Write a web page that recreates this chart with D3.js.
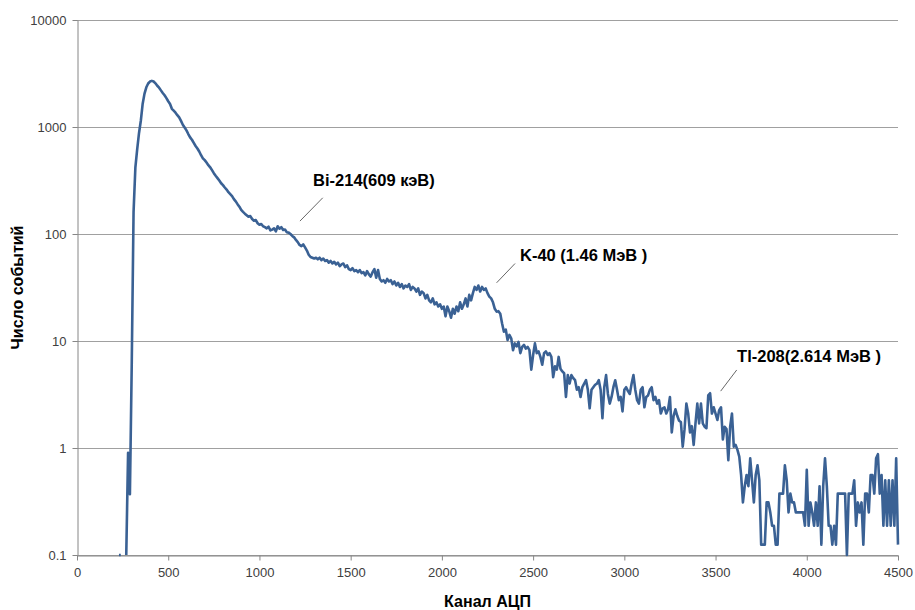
<!DOCTYPE html>
<html>
<head>
<meta charset="utf-8">
<script src="https://cdn.jsdelivr.net/npm/d3@7"></script>
<style>
  html, body { margin: 0; padding: 0; background: #ffffff; }
  svg { display: block; }
</style>
</head>
<body>
<div id="chart"></div>
<script>
// ---- Data ----
const channelStart = 230;   // first channel of the counts array
const channelStep = 10;     // channel spacing between samples
const counts = [
  0.1, 0.1, null, null, 0.1, 0.9, 0.37, 6, 160, 420,
  620, 880, 1150, 1650, 2050, 2350, 2550, 2660, 2700, 2660,
  2560, 2430, 2330, 2200, 2080, 1980, 1860, 1740, 1640, 1480,
  1420, 1360, 1290, 1230, 1140, 1050, 990, 930, 860, 800,
  760, 710, 665, 630, 590, 545, 510, 490, 465, 440,
  420, 395, 370, 350, 333, 316, 298, 286, 272, 260,
  246, 236, 226, 212, 202, 190, 180, 168, 161, 155,
  150, 145, 147, 138, 133, 135, 126, 122, 124, 118,
  116, 113, 117, 108, 110, 113, 106, 118, 112, 116,
  109, 110, 104, 103, 100, 96, 93, 88, 84, 79,
  77, 80, 75, 70, 64, 61, 60, 59, 60, 58,
  60, 57, 59, 56, 57, 54, 56, 53, 55, 52,
  54, 50, 52, 53, 49, 51, 47, 46, 48, 45,
  46, 44, 46, 43, 44, 41, 45, 42, 40, 44,
  47, 39, 46, 38, 36, 37, 35, 38, 36, 37,
  34, 36, 33, 35, 32, 34, 31, 33, 32, 34,
  30, 32, 31, 29, 31, 27, 29, 28, 25, 27,
  24, 23, 25, 22, 23, 21, 22, 20, 21, 17,
  21, 19, 16.5, 20, 18, 21, 19, 23, 20, 22,
  25, 21, 27, 24, 28, 32, 30, 33, 29, 32,
  30, 31, 28, 26, 25, 23, 20, 18.8, 19, 18,
  14.6, 12.2, 12.8, 10.2, 11.4, 10.6, 8.2, 9.5, 8.9, 9.8,
  7.7, 8.8, 9.2, 8.5, 8.8, 8.2, 5.4, 7.4, 9.5, 7.7,
  8.0, 7.1, 6.0, 7.7, 8.0, 7.4, 7.7, 7.1, 4.6, 5.8,
  5.4, 7.1, 5.5, 5.2, 5.0, 3.0, 4.8, 4.0, 4.8, 4.5,
  4.3, 3.5, 3.7, 3.0, 3.7, 4.0, 4.3, 3.5, 2.35, 3.5,
  3.7, 3.9, 4.0, 4.3, 3.5, 1.9, 3.7, 4.8, 3.2, 2.6,
  3.0, 3.7, 4.3, 3.5, 2.8, 3.0, 2.2, 3.5, 3.7, 3.4,
  3.2, 4.0, 4.8, 3.5, 2.8, 2.6, 3.5, 3.7, 2.4, 3.0,
  3.1, 3.5, 3.7, 2.8, 3.0, 2.6, 2.8, 2.1, 2.35, 2.4,
  2.1, 2.3, 3.0, 1.4, 2.0, 2.3, 2.0, 1.8, 1.75, 1.03,
  1.5, 2.6, 2.1, 1.4, 1.6, 1.07, 1.7, 2.6, 1.7, 2.6,
  1.7, 1.58, 1.53, 3.1, 3.25, 2.1, 2.4, 2.1, 1.83, 2.26,
  2.4, 1.2, 1.58, 1.5, 0.77, 1.58, 2.1, 1.03, 1.07, 0.96,
  0.83, 0.56, 0.31, 0.44, 0.56, 0.44, 0.8, 0.5, 0.31, 0.56,
  0.69, 0.5, 0.125, 0.125, 0.125, 0.31, 0.31, 0.25, 0.1875, 0.1875,
  0.125, 0.125, 0.375, 0.375, 0.375, 0.6875, 0.5, 0.25, 0.375, 0.31,
  0.31, 0.25, 0.25, 0.25, 0.25, 0.25, 0.1875, 0.625, 0.1875, 0.31,
  0.25, 0.1875, 0.31, 0.1875, 0.4375, 0.125, 0.44, 0.8, 0.44, 0.1875,
  0.1875, 0.125, 0.1875, 0.125, 0.375, 0.375, 0.375, 0.375, 0.375, 0.1,
  0.375, 0.375, 0.375, 0.5, 0.1875, 0.31, 0.25, 0.31, 0.125, 0.375,
  0.375, 0.25, 0.56, 0.56, 0.375, 0.8, 0.875, 0.375, 0.56, 0.1875,
  0.5, 0.1875, 0.5, 0.1875, 0.5, 0.1875, 0.8, 0.125
];
const xTicks = [0, 500, 1000, 1500, 2000, 2500, 3000, 3500, 4000, 4500];
const yTicks = [0.1, 1, 10, 100, 1000, 10000];
const yTickLabels = ["0.1", "1", "10", "100", "1000", "10000"];
const xTitle = "Канал АЦП";
const yTitle = "Число событий";
const annotationTexts = ["Bi-214(609 кэВ)", "K-40 (1.46 МэВ )", "Tl-208(2.614 МэВ )"];
// leader line ends in data units: [channel, count] at the curve and at the label
const leaderFrom = [[1222, 132], [2300, 35], [3528, 3.4]];
const leaderTo = [[1347, 218], [2401, 53], [3616, 5.36]];
// label anchors in data units (left end of text baseline)
const labelAt = [[1294, 281], [2428, 56], [3618, 6.4]];

// ---- Layout ----
const W = 915, H = 610;
const plot = { left: 77, right: 898, top: 20, bottom: 555 };

const svg = d3.select("#chart").append("svg")
  .attr("width", W).attr("height", H)
  .style("font-family", "'Liberation Sans', Arial, sans-serif");

const x = d3.scaleLinear().domain([0, 4500]).range([plot.left, plot.right]);
const y = d3.scaleLog().domain([0.1, 10000]).range([plot.bottom, plot.top]);

// Gridlines
svg.append("g").selectAll("line").data(yTicks).join("line")
  .attr("x1", plot.left).attr("x2", plot.right)
  .attr("y1", d => Math.round(y(d)) + 0.5).attr("y2", d => Math.round(y(d)) + 0.5)
  .attr("stroke", "#a0a0a0").attr("stroke-width", 1);

// Y axis
const yAxis = svg.append("g")
  .attr("transform", `translate(${plot.left + 0.5},0)`)
  .call(d3.axisLeft(y).tickValues(yTicks)
    .tickFormat((d, i) => yTickLabels[i]).tickSize(5).tickSizeOuter(0).tickPadding(6));
yAxis.select(".domain").attr("stroke", "#868686");
yAxis.selectAll(".tick line").attr("stroke", "#868686");
yAxis.selectAll(".tick text").attr("font-size", 13).attr("fill", "#404040")
  .attr("font-family", "'Liberation Sans', Arial, sans-serif");

// X axis
const xAxis = svg.append("g")
  .attr("transform", `translate(0,${plot.bottom + 0.5})`)
  .call(d3.axisBottom(x).tickValues(xTicks).tickFormat(d3.format("d"))
    .tickSize(5).tickSizeOuter(0).tickPadding(7));
xAxis.select(".domain").attr("stroke", "#868686");
xAxis.selectAll(".tick line").attr("stroke", "#868686");
xAxis.selectAll(".tick text").attr("font-size", 13).attr("fill", "#404040")
  .attr("font-family", "'Liberation Sans', Arial, sans-serif");

// Spectrum line
const series = counts.map((v, i) => ({ ch: channelStart + i * channelStep, v }));
const line = d3.line()
  .defined(d => d.v !== null && d.v > 0)
  .x(d => x(d.ch))
  .y(d => y(d.v));
svg.append("path")
  .datum(series)
  .attr("fill", "none")
  .attr("stroke", "#3a6194")
  .attr("stroke-width", 2.6)
  .attr("stroke-linejoin", "round")
  .attr("d", line);

// Annotations
const ann = svg.append("g");
annotationTexts.forEach((t, i) => {
  ann.append("line")
    .attr("x1", x(leaderFrom[i][0])).attr("y1", y(leaderFrom[i][1]))
    .attr("x2", x(leaderTo[i][0])).attr("y2", y(leaderTo[i][1]))
    .attr("stroke", "#404040").attr("stroke-width", 0.8);
  ann.append("text")
    .attr("x", x(labelAt[i][0])).attr("y", y(labelAt[i][1]))
    .attr("font-size", 16.5).attr("font-weight", "bold").attr("fill", "#000")
    .text(t);
});

// Axis titles
svg.append("text")
  .attr("x", (plot.left + plot.right) / 2).attr("y", 607)
  .attr("text-anchor", "middle")
  .attr("font-size", 16).attr("font-weight", "bold")
  .text(xTitle);
svg.append("text")
  .attr("transform", `translate(23,${(plot.top + plot.bottom) / 2}) rotate(-90)`)
  .attr("text-anchor", "middle")
  .attr("font-size", 16).attr("font-weight", "bold")
  .text(yTitle);
</script>
</body>
</html>
